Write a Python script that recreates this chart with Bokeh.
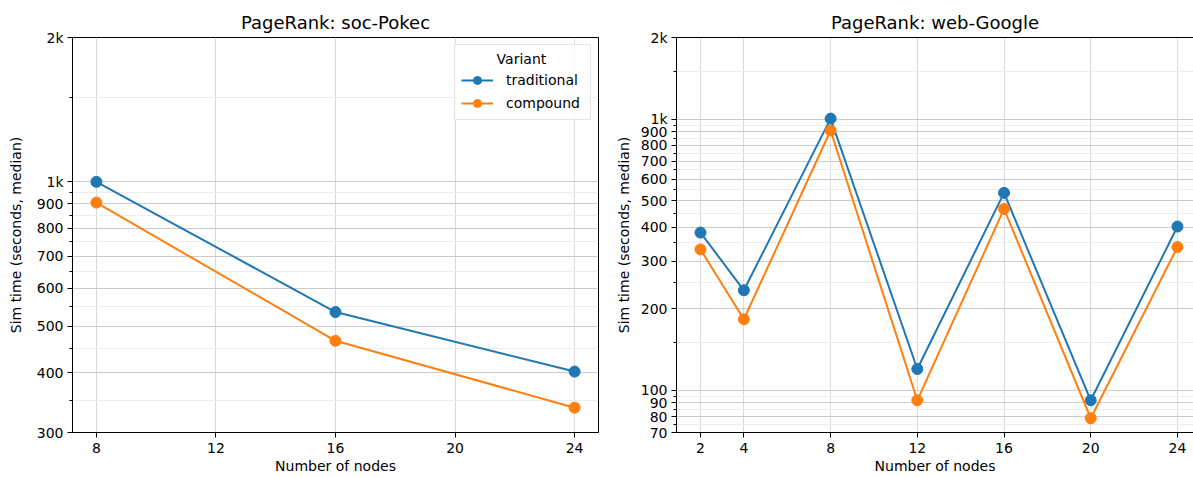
from bokeh.plotting import figure
from bokeh.layouts import row
from bokeh.models import (FixedTicker, CustomJSTickFormatter, Range1d, Legend,
                          LegendItem, LinearAxis)
from bokeh.embed import file_html
from bokeh.resources import INLINE

# ---- data ----
pokec_nodes = [8, 16, 24]
pokec_traditional = [1000, 535, 402]
pokec_compound = [905, 466, 338]

google_nodes = [2, 4, 8, 12, 16, 20, 24]
google_traditional = [382, 234, 1005, 120, 535, 92, 402]
google_compound = [331, 183, 908, 92, 467, 79, 338]

pokec_xticks = [8, 12, 16, 20, 24]
google_xticks = [2, 4, 8, 12, 16, 20, 24]
pokec_yticks = [300, 400, 500, 600, 700, 800, 900, 1000, 2000]
pokec_yminor = [350, 450, 550, 650, 750, 850, 950, 1500]
google_yticks = [70, 80, 90, 100, 200, 300, 400, 500, 600, 700, 800, 900, 1000, 2000]
google_yminor = [75, 85, 95, 150, 250, 350, 450, 550, 650, 750, 850, 950, 1500]

BLUE = "#1f77b4"
ORANGE = "#ff7f0e"
FONT = "DejaVu Sans"

fmt_code = """
var v = Math.round(tick);
if (v >= 1000) { return (v/1000) + 'k'; }
return v.toString();
"""


def style_axis(ax):
    ax.axis_line_color = "black"
    ax.major_tick_line_color = "black"
    ax.minor_tick_line_color = "black"
    ax.major_tick_out = 5
    ax.major_tick_in = 0
    ax.minor_tick_out = 3
    ax.minor_tick_in = 0
    ax.major_label_text_font = FONT
    ax.major_label_text_font_size = "14px"
    ax.major_label_text_color = "black"
    ax.axis_label_text_font = FONT
    ax.axis_label_text_font_size = "14px"
    ax.axis_label_text_font_style = "normal"
    ax.axis_label_text_color = "black"


def make_fig(title, width, x_range, y_range, xticks, yticks, yminor,
             border_left, border_right, ylabel_standoff, outline=True):
    p = figure(width=width, height=477, y_axis_type="log",
               x_range=x_range, y_range=y_range,
               output_backend="svg", toolbar_location=None,
               min_border_left=border_left, min_border_right=border_right,
               min_border_top=37, min_border_bottom=45,
               title=title)
    p.title.align = "center"
    p.title.text_font = FONT
    p.title.text_font_size = "18px"
    p.title.text_font_style = "normal"
    p.title.text_color = "black"
    p.title.standoff = 10
    p.outline_line_color = "black" if outline else None
    p.outline_line_width = 1
    p.background_fill_color = "white"
    p.border_fill_color = "white"

    p.xaxis.ticker = FixedTicker(ticks=xticks)
    p.yaxis.ticker = FixedTicker(ticks=yticks, minor_ticks=yminor)
    p.yaxis.formatter = CustomJSTickFormatter(code=fmt_code)
    p.xaxis.axis_label = "Number of nodes"
    p.yaxis.axis_label = "Sim time (seconds, median)"
    for ax in p.axis:
        style_axis(ax)
    p.xaxis.minor_tick_line_color = None
    p.xaxis.major_label_standoff = 5
    p.xaxis.axis_label_standoff = 2
    p.yaxis.major_label_standoff = 4
    p.yaxis.axis_label_standoff = ylabel_standoff

    p.xgrid.ticker = FixedTicker(ticks=xticks)
    p.xgrid.grid_line_color = "#dadada"
    p.ygrid.ticker = FixedTicker(ticks=yticks, minor_ticks=yminor)
    p.ygrid.grid_line_color = "#cdcdcd"
    p.ygrid.minor_grid_line_color = "#ededed"
    return p


def add_series(p, x, y, color):
    l = p.line(x, y, line_color=color, line_width=2)
    s = p.scatter(x, y, size=11, fill_color=color, line_color=color)
    return l, s


# ---- left: soc-Pokec ----
p1 = make_fig("PageRank: soc-Pokec", 612, Range1d(7.2, 24.8), Range1d(300, 2000),
              pokec_xticks, pokec_yticks, pokec_yminor, 72, 14, 10)
l1, s1 = add_series(p1, pokec_nodes, pokec_traditional, BLUE)
l2, s2 = add_series(p1, pokec_nodes, pokec_compound, ORANGE)

legend = Legend(items=[LegendItem(label="traditional", renderers=[l1, s1]),
                       LegendItem(label="compound", renderers=[l2, s2])],
                location="top_right", title="\u00a0" * 8 + "Variant")
legend.title_text_font = FONT
legend.title_text_font_size = "14px"
legend.title_text_font_style = "normal"
legend.title_text_color = "black"
legend.title_standoff = 3
legend.label_text_font = FONT
legend.label_text_font_size = "14px"
legend.label_text_color = "black"
legend.glyph_width = 32
legend.glyph_height = 20
legend.label_height = 20
legend.label_width = 78
legend.label_standoff = 13
legend.spacing = 3
legend.padding = 6
legend.margin = 7
legend.border_line_color = "#cccccc"
legend.background_fill_alpha = 0.85
p1.add_layout(legend)

# ---- right: web-Google ----
p2 = make_fig("PageRank: web-Google", 581, Range1d(0.893, 24.74), Range1d(70, 2000),
              google_xticks, google_yticks, google_yminor, 64, 0, 6, outline=False)
top_spine = LinearAxis(ticker=FixedTicker(ticks=[]), major_tick_line_color=None,
                       minor_tick_line_color=None, axis_line_color="black",
                       major_label_standoff=0)
p2.add_layout(top_spine, "above")
add_series(p2, google_nodes, google_traditional, BLUE)
add_series(p2, google_nodes, google_compound, ORANGE)

layout = row(p1, p2)
open("out.html", "w").write(file_html(layout, INLINE))
